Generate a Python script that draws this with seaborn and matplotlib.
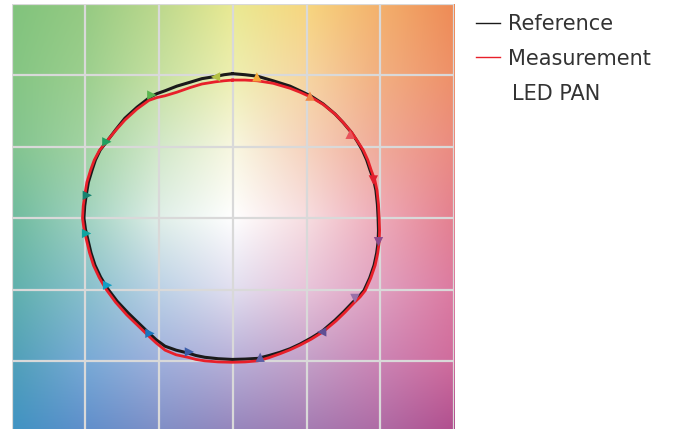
import numpy as np
import pandas as pd
import matplotlib.pyplot as plt
import matplotlib.colors as mcolors
import seaborn as sns

# a*/b* points (closed loop, clockwise from the top)
ref_a = [-0.1, 3.3, 6.6, 10.9, 15.5, 18.2, 21.2, 24.5, 27.7, 29.9, 32.1, 33.7, 35.1, 36.3, 37.2,
         38.2, 38.8, 39.2, 39.4, 39.5, 39.4, 39.0, 38.3, 37.1, 35.6, 34.2, 32.6, 30.1, 27.7, 24.2,
         21.2, 18.2, 15.5, 12.8, 9.8, 6.8, 3.3, -0.2, -4.0, -7.6, -10.0, -12.2, -15.4, -18.4,
         -20.8, -23.0, -25.7, -28.4, -31.4, -34.1, -35.9, -37.4, -38.5, -39.3, -40.0, -40.4,
         -40.2, -39.8, -39.2, -38.2, -37.3, -36.0, -33.9, -31.7, -29.3, -26.0, -22.5, -20.6,
         -18.4, -15.2, -11.6, -8.4, -4.8, -2.4, -0.1]
ref_b = [40.5, 40.2, 39.8, 38.5, 37.0, 35.7, 34.2, 32.0, 29.2, 26.8, 24.1, 21.6, 19.1, 16.3, 13.5,
         10.7, 7.8, 3.9, 0.0, -3.4, -6.7, -9.8, -13.2, -16.8, -20.2, -22.0, -23.5, -26.2, -28.6,
         -31.7, -33.6, -35.3, -36.6, -37.6, -38.5, -39.3, -39.5, -39.6, -39.4, -39.0, -38.5,
         -37.8, -37.0, -35.9, -34.1, -32.0, -29.3, -26.6, -23.3, -19.6, -16.5, -13.2, -9.7, -6.2,
         -3.1, 0.0, 3.4, 6.4, 10.1, 13.5, 16.3, 19.1, 21.9, 24.9, 28.0, 31.1, 33.9, 34.9, 35.7,
         37.0, 38.1, 39.1, 39.7, 40.2, 40.5]

meas_a = [-0.1, 3.3, 6.6, 10.9, 15.5, 18.2, 21.2, 24.6, 27.9, 30.1, 32.3, 33.9, 35.4, 36.6, 37.5,
          38.5, 39.1, 39.5, 39.7, 39.8, 39.7, 39.3, 38.6, 37.4, 35.9, 34.5, 32.9, 30.4, 28.0, 24.4,
          21.3, 18.2, 15.5, 12.8, 9.8, 6.8, 3.3, -0.2, -4.0, -7.6, -10.0, -12.2, -15.4, -18.4,
          -20.8, -23.2, -26.0, -28.8, -31.8, -34.5, -36.3, -37.8, -38.9, -39.7, -40.4, -40.8,
          -40.6, -40.2, -39.6, -38.6, -37.6, -36.2, -34.1, -31.8, -29.3, -26.0, -22.8, -20.6,
          -18.4, -15.2, -11.6, -8.4, -4.8, -2.4, -0.1]
meas_b = [38.7, 38.7, 38.5, 37.8, 36.4, 35.3, 33.9, 31.8, 29.0, 26.6, 23.9, 21.4, 19.0, 16.3, 13.5,
          10.7, 7.8, 3.9, 0.0, -3.4, -6.7, -9.8, -13.2, -16.8, -20.3, -22.1, -23.7, -26.4, -28.8,
          -31.9, -33.9, -35.6, -36.9, -38.0, -39.1, -40.0, -40.3, -40.4, -40.3, -40.0, -39.6,
          -39.0, -38.3, -37.0, -35.0, -32.7, -29.9, -27.1, -23.6, -19.8, -16.6, -13.3, -9.7, -6.2,
          -3.1, 0.0, 3.4, 6.4, 10.1, 13.5, 16.3, 19.0, 21.7, 24.6, 27.5, 30.6, 33.0, 33.8, 34.3,
          35.3, 36.6, 37.6, 38.2, 38.5, 38.7]

# hue markers on the reference curve
mark_a = [-4.7, 6.5, 20.9, 31.8, 38.1, 39.5, 33.1, 24.1, 7.4, -11.8, -22.5, -34.0, -39.7, -39.5, -34.2, -22.0]
mark_b = [39.6, 39.6, 34.2, 23.5, 10.7, -6.6, -22.5, -31.9, -39.0, -37.5, -32.3, -18.8, -4.3, 6.4, 21.4, 34.5]
mark_dir = ['<', '^', '^', '^', 'v', 'v', 'v', '<', '^', '>', '>', '>', '>', '>', '>', '>']
mark_col = ['#b3c045', '#f5a83a', '#ef8444', '#e8535a', '#e01f30', '#8c4a8c', '#9a70a8', '#5e4f94',
            '#5b5fa5', '#3a5ca8', '#1a75bd', '#139fc4', '#10a3a0', '#168270', '#1fa060', '#5ab550']

# background colours at the grid intersections (top row first)
bg_rows = [
    ['#80c37c', '#95ca82', '#bcd88c', '#e9e991', '#f7d67e', '#f3b06b', '#ee8a55'],
    ['#84c583', '#9ccf8e', '#c6e0a0', '#eeefb0', '#f6d5a0', '#f2af80', '#ee9068'],
    ['#82c48f', '#a2d3a2', '#d2e8c8', '#f8f7e0', '#f6d2bc', '#f0aa98', '#eb8b80'],
    ['#6fbb9e', '#a0d2c0', '#e0efe8', '#ffffff', '#f7dde0', '#eeaab8', '#e4808f'],
    ['#5fb0ac', '#88c0cc', '#bcd2e6', '#e2dff0', '#e8c4da', '#e0a0c0', '#dc7aa0'],
    ['#50a0b8', '#78aad6', '#9fb0dc', '#b8b0d8', '#c4a0c8', '#cc84b4', '#d06c9c'],
    ['#3f93c3', '#5f8ecb', '#7f8ec6', '#9585bc', '#a47bb2', '#ae6aa4', '#b04e8e'],
]

fig = plt.figure(figsize=(6.78, 4.29), dpi=100)
ax = fig.add_axes([0.0173, -0.0075, 0.6524, 0.998])

bg = np.array([[mcolors.to_rgb(c) for c in row] for row in bg_rows])
ax.imshow(bg, extent=(-70, 70, -70, 70), interpolation='bilinear', zorder=0)

sns.lineplot(x=ref_a, y=ref_b, sort=False, estimator=None, color='#1a1a1a', lw=2.2, ax=ax, zorder=3)
sns.lineplot(x=meas_a, y=meas_b, sort=False, estimator=None, color='#e8202a', lw=2.0, ax=ax, zorder=4)
for ln in ax.lines:
    ln.set_solid_joinstyle('round')

marks = pd.DataFrame({'a': mark_a, 'b': mark_b, 'dir': mark_dir, 'idx': range(len(mark_a))})
sns.scatterplot(data=marks, x='a', y='b', hue='idx', palette=mark_col, style='dir',
                markers={d: d for d in set(mark_dir)}, s=45, linewidth=0, legend=False,
                ax=ax, zorder=5)

ax.set_xlim(-60, 60)
ax.set_ylim(-60, 60)
ax.set_aspect('auto')
ax.set_xticks(range(-60, 61, 20))
ax.set_yticks(range(-60, 61, 20))
ax.grid(True, color='#d9d9d9', lw=1.6)
ax.tick_params(length=0, labelbottom=False, labelleft=False)
ax.set_xlabel('')
ax.set_ylabel('')
for s in ax.spines.values():
    s.set_visible(False)

h1 = plt.Line2D([], [], color='#1a1a1a', lw=1.0)
h2 = plt.Line2D([], [], color='#e8202a', lw=1.0)
fig.legend([h1, h2], ['Reference', 'Measurement'], loc='upper left',
           bbox_to_anchor=(476 / 678, 1 - 14 / 429), frameon=False, fontsize=15,
           handlelength=1.15, handletextpad=0.4, labelspacing=0.7, borderpad=0,
           borderaxespad=0, labelcolor='#333333')
fig.text(511.5 / 678, 1 - 100 / 429, 'LED PAN', fontsize=15, color='#333333', va='baseline')

fig.savefig('out.png', dpi=100)
